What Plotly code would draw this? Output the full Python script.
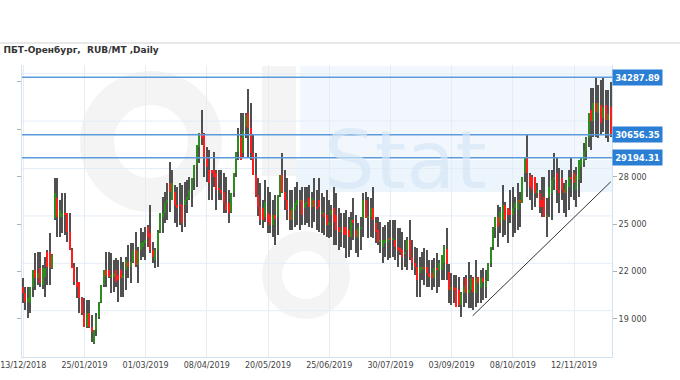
import plotly.graph_objects as go

# ---------------- data ----------------
tick_labels = ["13/12/2018", "25/01/2019", "01/03/2019", "08/04/2019", "20/05/2019",
               "25/06/2019", "30/07/2019", "03/09/2019", "08/10/2019", "12/11/2019"]
tick_index = [0, 25, 50, 75, 100, 125, 150, 175, 200, 225]

open_ = [21040, 20620, 20090, 19980, 21040, 22090, 21600, 22200, 21150, 21670,
         23250, 23250, 22200, 25400, 26630, 25470, 25470, 25680, 25680, 24520,
         23360, 22300, 21360, 21360, 20300, 19350, 18510, 19350, 18510, 17450,
         18300, 19140, 20090, 21150, 22090, 22090, 21670, 21670, 22090, 21780,
         22090, 21570, 22090, 22620, 22300, 22620, 23360, 22410, 23360, 23570,
         23800, 24840, 24420, 23360, 22730, 23360, 24520, 25470, 25680, 26310,
         27580, 26520, 27050, 26210, 26210, 26210, 26210, 26520, 26630, 27160,
         27900, 28740, 29900, 30740, 30640, 29160, 28420, 28420, 28420, 28210,
         27260, 27160, 27050, 26310, 26310, 25790, 26950, 28210, 29580, 30530,
         29500, 31170, 32010, 31060, 29480, 28110, 26840, 26100, 25990, 25470,
         25680, 25580, 24940, 25580, 25470, 26840, 28110, 27050, 26520, 25890,
         25260, 25890, 26210, 26420, 26520, 25990, 26310, 26630, 26100, 26520,
         26100, 26520, 25680, 25680, 25580, 24940, 25580, 25990, 25580, 24840,
         24520, 24840, 24840, 24630, 24200, 25260, 24630, 24100, 24730, 25360,
         26520, 25360, 25470, 25990, 25050, 24630, 23890, 23570, 23780, 23890,
         24100, 24000, 23990, 23570, 23470, 23360, 23150, 23360, 23990, 22940,
         22520, 22300, 21880, 22090, 22300, 22300, 21880, 21880, 21570, 22200,
         22090, 22090, 22520, 23400, 22000, 20830, 21040, 20930, 20830, 19880,
         20620, 21570, 20620, 20830, 21570, 20620, 21670, 20930, 21570, 21040,
         21460, 22520, 23570, 24730, 25470, 25050, 25260, 26210, 25990, 25890,
         25580, 25990, 25890, 26520, 26310, 28210, 29160, 28110, 28000, 28000,
         26950, 26950, 26500, 26740, 25470, 26740, 26950, 27790, 28210, 27160,
         27900, 27160, 26950, 27370, 28000, 28210, 27160, 27790, 28640, 28900,
         29600, 30430, 32200, 31500, 32640, 32010, 32540, 31690, 32540, 31590,
         32430]
high = [21570, 21040, 21040, 21040, 22090, 23150, 23250, 23250, 22400, 22940,
        23360, 24420, 23100, 27900, 27900, 26530, 26950, 26950, 25680, 25680,
        23470, 22520, 22300, 21360, 20410, 20300, 20200, 20200, 19250, 18300,
        19350, 20090, 21150, 22090, 23250, 23250, 23150, 22730, 22830, 22730,
        22940, 22620, 22940, 23680, 23780, 23780, 24520, 23570, 24730, 24520,
        24840, 24940, 26210, 23890, 23470, 24630, 25680, 26740, 27050, 27580,
        28950, 28420, 27470, 27370, 27580, 27470, 27680, 27790, 28000, 27900,
        28740, 30000, 30740, 32220, 30740, 29900, 29690, 28420, 29580, 28420,
        28420, 28420, 28210, 28000, 27160, 26950, 28210, 29580, 31060, 32010,
        32010, 32010, 33530, 32640, 30640, 29480, 27900, 27580, 26520, 27790,
        27370, 27050, 26520, 26840, 26840, 28110, 29480, 28420, 27900, 27160,
        27160, 27370, 27690, 27160, 27370, 27370, 27370, 27470, 27050, 27900,
        27160, 27900, 26950, 26740, 27160, 26520, 26210, 27370, 26950, 26000,
        25680, 25680, 25890, 25470, 25790, 26630, 25580, 25050, 25470, 26950,
        27050, 26740, 26630, 27370, 25470, 25470, 25150, 24840, 24940, 25150,
        25260, 25260, 25260, 24730, 24730, 24520, 23990, 24200, 25260, 23990,
        23570, 23470, 22940, 23250, 23470, 23360, 22730, 22730, 22830, 23150,
        22730, 23040, 23670, 24730, 22500, 21880, 21780, 21780, 21670, 20720,
        21670, 21780, 22620, 21780, 21680, 22730, 21670, 22090, 22200, 22090,
        22520, 23570, 24840, 25470, 26210, 26100, 27470, 26420, 25990, 27160,
        27370, 26740, 27580, 27050, 28000, 29160, 30640, 28210, 28100, 28000,
        27580, 27160, 28000, 28000, 26630, 28420, 28420, 29480, 29160, 28530,
        28420, 27580, 27790, 28420, 29270, 28420, 28640, 29060, 29270, 30110,
        30530, 32010, 33590, 33590, 34287.89, 33800, 34120, 34230, 33490, 33490,
        34020]
low = [19980, 19560, 19030, 19350, 20410, 20830, 21150, 21040, 20900, 20410,
       21150, 21150, 22150, 25260, 24200, 24200, 24420, 24310, 23890, 23360,
       22200, 21150, 20300, 19350, 19250, 18510, 18400, 18400, 17560, 17390,
       17900, 19000, 20000, 21000, 21040, 21600, 20620, 20720, 21040, 20090,
       20410, 20410, 20830, 21570, 21250, 22520, 22300, 21250, 22730, 22940,
       22730, 23570, 23150, 22520, 22200, 22300, 24420, 24420, 25050, 25260,
       25790, 26520, 25050, 24840, 24940, 24520, 24840, 25680, 26520, 26100,
       27160, 27370, 28850, 30000, 28000, 27690, 26520, 26520, 27370, 25890,
       26500, 26520, 25680, 25680, 25050, 25680, 26740, 28000, 29060, 29060,
       29270, 30430, 29270, 29060, 28110, 26740, 25500, 24940, 24730, 25150,
       24420, 24420, 24200, 23680, 24310, 26740, 26950, 25890, 25260, 24630,
       24630, 24840, 24940, 24630, 24940, 24940, 25050, 24840, 24730, 25150,
       24630, 24520, 24420, 24310, 24200, 24100, 24200, 23680, 23680, 23360,
       23570, 23470, 22830, 22940, 23360, 23990, 23150, 22940, 23360, 24200,
       25360, 24100, 24200, 24100, 23780, 23680, 23150, 22520, 22940, 22730,
       22830, 22940, 22730, 22300, 23050, 22090, 22300, 22090, 22730, 22090,
       21780, 20410, 20410, 21460, 21140, 21040, 21040, 20830, 21040, 20620,
       21040, 21460, 21460, 21460, 20000, 19880, 19980, 19770, 19770, 19140,
       19770, 19980, 19670, 19670, 19560, 19770, 19980, 19980, 20190, 20300,
       21400, 22300, 23360, 24100, 23570, 24420, 24200, 24310, 23780, 25050,
       24200, 24420, 24630, 24840, 26310, 27690, 26740, 26530, 25890, 26100,
       26630, 25680, 25470, 25470, 24200, 25470, 25260, 27160, 26310, 25680,
       26530, 25680, 25470, 25890, 26740, 26530, 26100, 26740, 27580, 28640,
       29060, 29900, 29690, 30530, 30530, 30430, 30640, 30850, 30430, 30220,
       30530]
close = [20620, 20090, 20350, 21040, 22090, 21600, 21900, 21250, 22200, 22200,
         22300, 22200, 23050, 27000, 25470, 25900, 25680, 25600, 24520, 23360,
         22200, 21360, 21000, 20300, 19350, 18510, 19350, 18510, 18190, 18300,
         19140, 20090, 21150, 22090, 21700, 21670, 21800, 21880, 21360, 21460,
         21570, 21800, 22730, 22300, 22600, 23360, 22410, 23300, 23780, 23900,
         24000, 24200, 23360, 22940, 23360, 24520, 25680, 25680, 26310, 26520,
         27050, 27580, 26210, 26000, 26200, 25050, 26520, 26730, 27160, 27900,
         28740, 30000, 30740, 30430, 29160, 28630, 27580, 28210, 28000, 27160,
         27160, 26950, 26310, 25890, 25680, 26950, 28210, 29580, 30530, 29060,
         30900, 31900, 31060, 29480, 28110, 26840, 26100, 25260, 25260, 26420,
         25150, 24940, 25580, 25300, 26840, 28110, 27050, 26520, 25890, 25260,
         25990, 26310, 26520, 26520, 25580, 26310, 26420, 26100, 26630, 26100,
         26000, 26100, 25690, 25470, 24940, 25150, 25890, 25150, 24630, 24520,
         24630, 24310, 24310, 24200, 25260, 25050, 24200, 24730, 24800, 26520,
         25360, 25500, 25990, 25260, 24520, 23890, 24000, 23990, 23990, 24100,
         24000, 24100, 23570, 23360, 23250, 22940, 23250, 23990, 22940, 22520,
         22300, 21460, 22300, 22300, 22200, 21880, 21670, 21570, 22200, 22100,
         22520, 23040, 23610, 22500, 20830, 21040, 20830, 19770, 19880, 20620,
         21040, 20620, 20830, 21570, 20720, 21570, 21250, 21570, 21360, 21460,
         22520, 23570, 24730, 25470, 24840, 25790, 26210, 25260, 25580, 25580,
         25990, 26310, 26520, 26310, 28000, 29160, 28210, 27370, 27160, 26950,
         27160, 26100, 26100, 25470, 25580, 27370, 27790, 28000, 27160, 27000,
         27160, 26950, 27580, 28000, 27900, 27580, 28110, 29060, 29160, 29600,
         30430, 32010, 31500, 32640, 32120, 32640, 31380, 32430, 31590, 32000,
         30656.35]

levels = [34287.89, 30656.35, 29194.31]
trend_x = [183.6, 240.0]
trend_y = [19200, 27680]
y_ticks = [19000, 22000, 25000, 28000, 31000, 34000]
y_tick_text = ["19 000", "22 000", "25 000", "28 000", "", ""]
y_range = [16590, 35070]

# ---------------- figure ----------------
W, H = 680, 380
ML, MR, MT, MB = 22, 68, 65, 23
PW, PH = W - ML - MR, H - MT - MB


def px(x):  # page pixel -> paper x
    return (x - ML) / PW


def py(y):  # page pixel -> paper y
    return (H - MB - y) / PH


n = len(close)
idx = list(range(n))
body_base = [min(o, c) for o, c in zip(open_, close)]
body_len = [max(abs(c - o), 60) for o, c in zip(open_, close)]
body_col = ["#2e8b1e" if c >= o else "#ff1c1c" for o, c in zip(open_, close)]
wick_len = [h - l for h, l in zip(high, low)]

fig = go.Figure()
fig.add_trace(go.Bar(x=idx, y=wick_len, base=low, width=0.6,
                     marker=dict(color="#505050", line=dict(width=0)),
                     hoverinfo="skip"))
fig.add_trace(go.Bar(x=idx, y=body_len, base=body_base, width=0.6,
                     marker=dict(color=body_col, line=dict(width=0)),
                     hoverinfo="skip"))
fig.add_trace(go.Scatter(x=trend_x, y=trend_y, mode="lines",
                         line=dict(color="#333333", width=1), hoverinfo="skip"))

shapes = []
# faint watermark (logo) behind the grid
wm_grey = "rgba(0,0,0,0.045)"
shapes.append(dict(type="circle", xref="paper", yref="paper",
                   x0=px(97), x1=px(205), y0=py(88), y1=py(195),
                   line=dict(color=wm_grey, width=34), layer="below"))
shapes.append(dict(type="rect", xref="paper", yref="paper",
                   x0=px(262), x1=px(296), y0=py(66), y1=py(176),
                   fillcolor=wm_grey, line=dict(width=0), layer="below"))
shapes.append(dict(type="circle", xref="paper", yref="paper",
                   x0=px(272), x1=px(340), y0=py(241), y1=py(309),
                   line=dict(color=wm_grey, width=20), layer="below"))
shapes.append(dict(type="rect", xref="paper", yref="paper",
                   x0=px(300), x1=px(612), y0=py(66), y1=py(158),
                   fillcolor="rgba(222,236,249,0.4)", line=dict(width=0), layer="below"))
shapes.append(dict(type="rect", xref="paper", yref="paper",
                   x0=px(296), x1=px(612), y0=py(160), y1=py(192),
                   fillcolor="rgba(222,236,249,0.55)", line=dict(width=0), layer="below"))
# horizontal grid
for k in range(6):
    g = 19520 + 3000 * k
    shapes.append(dict(type="line", xref="paper", x0=0, x1=1, yref="y", y0=g, y1=g,
                       line=dict(color="#e4edf6", width=1), layer="below"))
# level lines
for v in levels:
    shapes.append(dict(type="line", xref="paper", x0=0, x1=1, yref="y", y0=v, y1=v,
                       line=dict(color="#5b9bdb", width=1.5), layer="above"))
# top separator
shapes.append(dict(type="line", xref="paper", x0=px(0), x1=px(W), yref="paper",
                   y0=py(43), y1=py(43), line=dict(color="#d0d0d0", width=1)))

annotations = [dict(x=px(405), xref="paper", y=py(112), yref="paper",
                    text="Stat", showarrow=False,
                    font=dict(family="DejaVu Sans", size=80, color="rgba(214,231,247,0.7)"))]
for v in levels:
    annotations.append(dict(x=1, xref="paper", xanchor="left", y=v, yref="y",
                            yanchor="middle", text="<b>%.2f</b>" % v, showarrow=False,
                            bgcolor="#2a7fd4", borderpad=2, width=45, height=11,
                            font=dict(family="DejaVu Sans", size=8.5, color="white")))

fig.update_layout(
    width=W, height=H,
    margin=dict(l=ML, r=MR, t=MT, b=MB, autoexpand=False),
    paper_bgcolor="white", plot_bgcolor="white",
    barmode="overlay", bargap=0, showlegend=False,
    title=dict(text="<b>ПБТ-Оренбург,  RUB/MT ,Daily</b>", x=0.005, xanchor="left",
               xref="container", y=1 - 50 / H, yref="container", yanchor="middle",
               font=dict(family="DejaVu Sans", size=9, color="#333333")),
    shapes=shapes, annotations=annotations,
    xaxis=dict(range=[-0.5, n - 0.5], tickvals=tick_index, ticktext=tick_labels,
               automargin=False, layer="above traces",
               showgrid=True, gridcolor="#e4edf6", gridwidth=1, zeroline=False,
               showline=True, linecolor="#d3e2f0", ticks="",
               tickfont=dict(family="DejaVu Sans", size=8, color="#444444")),
    yaxis=dict(side="right", range=y_range, tickvals=y_ticks, ticktext=y_tick_text,
               automargin=False,
               showgrid=False, zeroline=False, showline=True, linecolor="#d3e2f0",
               mirror="ticks", ticks="outside", ticklen=4, tickcolor="#b0b0b0",
               tickfont=dict(family="DejaVu Sans", size=8, color="#444444")),
)

fig.write_html("out.html", config={"displayModeBar": False},
               post_script="document.body.style.margin='0px';document.body.style.padding='0px';")
